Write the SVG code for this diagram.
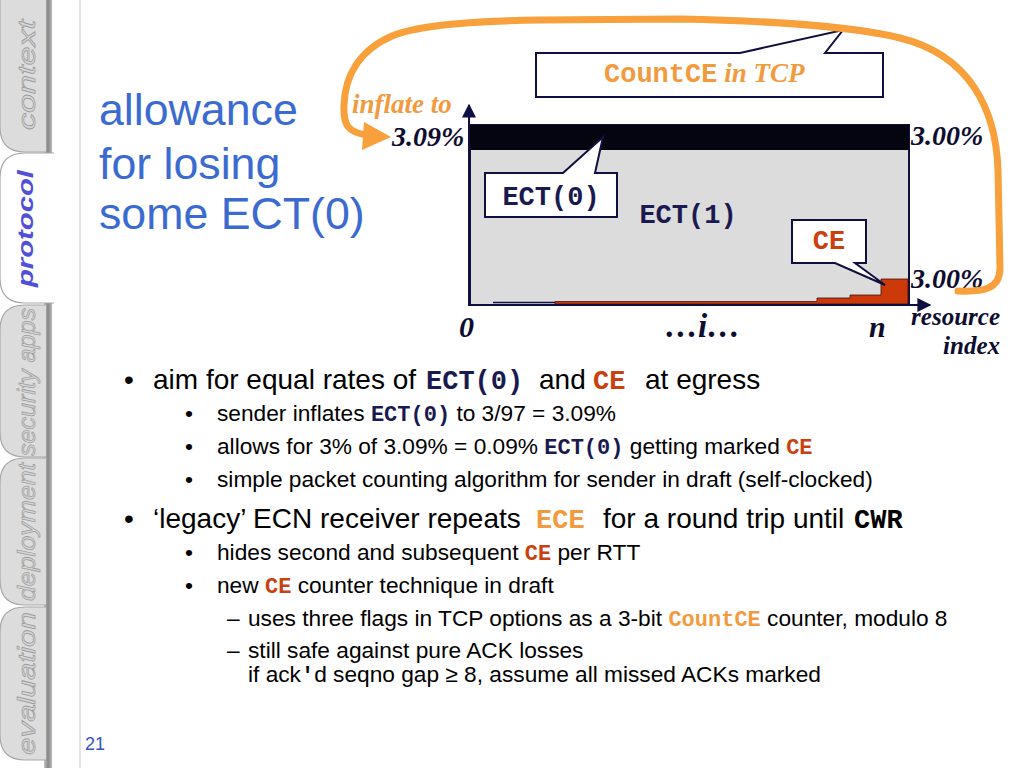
<svg xmlns="http://www.w3.org/2000/svg" width="1024" height="768" viewBox="0 0 1024 768">
<defs>
<style>
.sans{font-family:"Liberation Sans",Arial,sans-serif}
.mono{font-family:"Liberation Mono","Courier New",monospace;font-weight:bold}
.serif{font-family:"Liberation Serif","Times New Roman",serif;font-weight:bold;font-style:italic}
.tab{fill:#dcdcdc;stroke:#a8a8a8;stroke-width:1.2}
.tabtxt{font-family:"Liberation Sans",Arial,sans-serif;font-style:italic;font-size:24px;fill:#d6d6d6;stroke:#9c9c9c;stroke-width:0.7}
.navy{fill:#1a1a50}
.red{fill:#c8410f}
.orange{fill:#f29a3e}
.lbl{fill:#0d0d30}
.call{fill:#ffffff;stroke:#101040;stroke-width:2}
.main{font-size:28px}
.sub{font-size:22.7px}
.pre{white-space:pre}
</style>
<linearGradient id="bar" x1="0" y1="0" x2="1" y2="0">
<stop offset="0" stop-color="#c4c4c4"/>
<stop offset="0.5" stop-color="#888888"/>
<stop offset="1" stop-color="#b8b8b8"/>
</linearGradient>
<marker id="ah" viewBox="0 0 10 10" refX="9" refY="5" markerWidth="7" markerHeight="7" orient="auto">
<path d="M0,0 L10,5 L0,10 Z" fill="#101040"/>
</marker>
</defs>
<rect x="0" y="0" width="1024" height="768" fill="#ffffff"/>

<g id="sidebar">
<rect x="44" y="0" width="8" height="768" fill="url(#bar)"/>
<line x1="80" y1="0" x2="80" y2="768" stroke="#cfcfcf" stroke-width="1.2"/>
<g id="tab-context">
<path class="tab" d="M46,-10 L0,-10 L0,127 Q0,152 25,152 L46,152"/>
<text class="tabtxt" transform="translate(35,130) rotate(-90)" textLength="110" lengthAdjust="spacingAndGlyphs">context</text>
</g>
<g id="tab-security">
<path class="tab" d="M46,305 L25,305 Q0,305 0,330 L0,432 Q0,457 25,457 L46,457"/>
<text class="tabtxt" transform="translate(35,456) rotate(-90)" textLength="148" lengthAdjust="spacingAndGlyphs">security apps</text>
</g>
<g id="tab-deployment">
<path class="tab" d="M46,458 L25,458 Q0,458 0,483 L0,580 Q0,605 25,605 L46,605"/>
<text class="tabtxt" transform="translate(35,601) rotate(-90)" textLength="138" lengthAdjust="spacingAndGlyphs">deployment</text>
</g>
<g id="tab-evaluation">
<path class="tab" d="M46,607 L25,607 Q0,607 0,632 L0,735 Q0,760 25,760 L46,760"/>
<text class="tabtxt" transform="translate(35,755) rotate(-90)" textLength="143" lengthAdjust="spacingAndGlyphs">evaluation</text>
</g>
<g id="tab-protocol">
<path d="M54,153 L25,153 Q0,153 0,178 L0,278 Q0,303 25,303 L54,303 Z" fill="#ffffff"/>
<path d="M54,153 L25,153 Q0,153 0,178 L0,278 Q0,303 25,303 L54,303" fill="none" stroke="#a8a8a8" stroke-width="1.2"/>
<text transform="translate(33,287) rotate(-90)" font-family="Liberation Sans, Arial, sans-serif" font-weight="bold" font-style="italic" font-size="22" fill="#5050d8" textLength="117" lengthAdjust="spacingAndGlyphs">protocol</text>
</g>
</g>

<g id="title" class="sans" font-size="44.7" fill="#3b6bd0">
<text x="99" y="125">allowance</text>
<text x="99" y="179">for losing</text>
<text x="99" y="229">some ECT(0)</text>
</g>

<g id="chart">
<rect x="470" y="125" width="439" height="180" fill="#dcdcdc" stroke="#101040" stroke-width="2"/>
<rect x="470" y="125" width="439" height="25" fill="#050510"/>
<line x1="493" y1="302.5" x2="556" y2="302.5" stroke="#101040" stroke-width="1.5"/>
<path d="M555,304 L555,301.5 L817,301.5 L817,298 L850,298 L850,295 L881,295 L881,279 L908,279 L908,304 Z" fill="#cc3a0a" stroke="#401010" stroke-width="0.8"/>
</g>
<g id="axes" fill="none" stroke="#101040" stroke-width="2">
<line x1="469" y1="306" x2="469" y2="105" marker-end="url(#ah)"/>
<line x1="468" y1="305" x2="930" y2="305" marker-end="url(#ah)"/>
</g>

<g id="chart-labels" class="serif lbl">
<text x="392" y="146" font-size="28">3.09%</text>
<text x="911" y="145" font-size="28">3.00%</text>
<text x="911" y="288" font-size="28">3.00%</text>
<text x="459" y="337" font-size="30">0</text>
<text x="665" y="337" font-size="33">…i…</text>
<text x="869" y="337" font-size="30">n</text>
<text x="1000" y="325" font-size="25" text-anchor="end">resource</text>
<text x="1000" y="354" font-size="25" text-anchor="end">index</text>
</g>
<text id="inflate-label" class="serif orange" x="352" y="113" font-size="27">inflate to</text>

<g id="callout-ect0">
<path class="call" d="M485,173 L563,173 L603,137 L595,173 L617,173 L617,217 L485,217 Z"/>
<text class="mono navy" x="551" y="205" font-size="27" text-anchor="middle">ECT(0)</text>
</g>
<g id="label-ect1">
<text class="mono navy" x="688" y="223" font-size="27" text-anchor="middle">ECT(1)</text>
</g>
<g id="callout-ce">
<path class="call" d="M792,220 L866,220 L866,263 L855,263 L885,285 L835,263 L792,263 Z"/>
<text class="mono red" x="829" y="249" font-size="27" text-anchor="middle">CE</text>
</g>
<g id="callout-countce">
<path class="call" d="M536,53 L740,53 L843,30 L825,53 L883,53 L883,97 L536,97 Z"/>
<text x="604" y="82" font-size="27" class="orange"><tspan class="mono">CountCE</tspan><tspan class="serif"> in TCP</tspan></text>
</g>

<g id="connectors">
<path d="M958,291 C982,292 1000,290 1000,268 L998,170 C996,110 970,55 900,38 C860,28 780,21 680,19 L540,20 C480,21 420,24 392,36 C360,50 345,75 344,105 C343,125 348,133 368,135" fill="none" stroke="#f7a03c" stroke-width="7" stroke-linecap="round"/>
<polygon points="391,137 364,122 362,150" fill="#f7a03c"/>
</g>

<g id="bullets" class="sans" fill="#000000">
<text class="main" x="124" y="389">•</text>
<text class="main" x="153" y="389">aim for equal rates of <tspan class="mono navy" font-size="27" x="426">ECT(0)</tspan><tspan x="539">and</tspan><tspan class="mono red" font-size="27" x="593">CE</tspan><tspan x="645">at egress</tspan></text>
<text class="sub" x="185" y="421">•</text>
<text class="sub pre" x="217" y="421">sender inflates <tspan class="mono navy" font-size="22">ECT(0)</tspan> to 3/97 = 3.09%</text>
<text class="sub" x="185" y="454">•</text>
<text class="sub pre" x="217" y="454">allows for 3% of 3.09% = 0.09% <tspan class="mono navy" font-size="22">ECT(0)</tspan> getting marked <tspan class="mono red" font-size="22">CE</tspan></text>
<text class="sub" x="185" y="487">•</text>
<text class="sub" x="217" y="487">simple packet counting algorithm for sender in draft (self-clocked)</text>
<text class="main" x="124" y="528">•</text>
<text class="main" x="153" y="528">‘legacy’ ECN receiver repeats <tspan class="mono orange" font-size="27" x="536">ECE</tspan><tspan x="603">for a round trip until</tspan><tspan class="mono" font-size="27" x="854">CWR</tspan></text>
<text class="sub" x="185" y="560">•</text>
<text class="sub pre" x="217" y="560">hides second and subsequent <tspan class="mono red" font-size="22">CE</tspan> per RTT</text>
<text class="sub" x="185" y="593">•</text>
<text class="sub pre" x="217" y="593">new <tspan class="mono red" font-size="22">CE</tspan> counter technique in draft</text>
<text class="sub" x="227" y="626">–</text>
<text class="sub pre" x="248" y="626">uses three flags in TCP options as a 3-bit <tspan class="mono orange" font-size="22">CountCE</tspan> counter, modulo 8</text>
<text class="sub" x="227" y="658">–</text>
<text class="sub" x="248" y="658">still safe against pure ACK losses</text>
<text class="sub pre" x="248" y="682" font-size="22px">if ack<tspan class="mono" font-size="22">'</tspan>d seqno gap ≥ 8, assume all missed ACKs marked</text>
</g>

<text id="page-number" class="sans" x="85" y="750" font-size="18" fill="#3355bb">21</text>
</svg>
